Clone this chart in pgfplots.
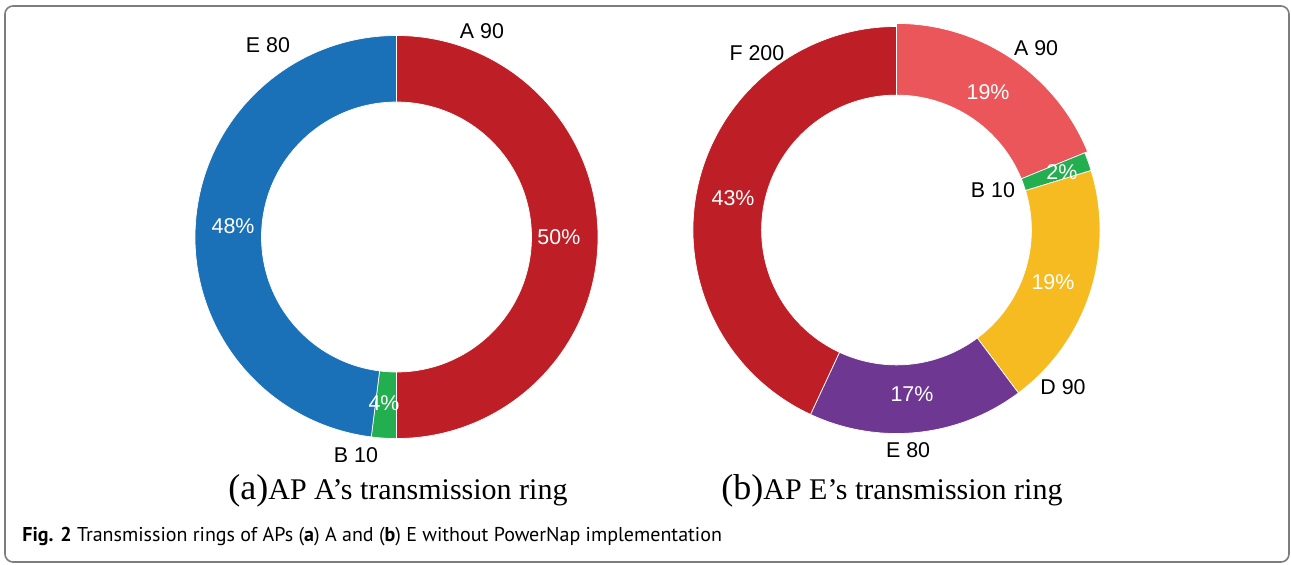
\documentclass[border=0pt]{standalone}
\usepackage{pgfplots}
\pgfplotsset{compat=1.18}
\usepackage{fontspec}
\setmainfont{Liberation Sans}
\newfontfamily\serifcap{Liberation Serif}
\newfontfamily\capfont{PT Sans}

\definecolor{cRed}{RGB}{190,30,38}
\definecolor{cBlue}{RGB}{27,113,183}
\definecolor{cGreen}{RGB}{35,174,80}
\definecolor{cPink}{RGB}{234,86,90}
\definecolor{cYellow}{RGB}{247,187,34}
\definecolor{cPurple}{RGB}{110,55,146}
\definecolor{cFrame}{RGB}{125,125,125}

% ring data (slice sizes as drawn): value/colour/outer-radius factor, clockwise from the top
\def\ringLeft{50/cRed/1, 2/cGreen/1, 48/cBlue/1}
\def\ringRight{67.7/cPink/1.015, 5.3/cGreen/1, 70.2/cYellow/1, 61.8/cPurple/1, 155/cRed/1}

% #1 list macro, #2 outer radius (pt, = 1 axis unit), #3 inner/outer ratio
\newcommand\drawring[3]{%
  \gdef\tot{0}%
  \foreach \v/\c/\s in #1 {\pgfmathparse{\tot+\v}\xdef\tot{\pgfmathresult}}%
  \gdef\cum{0}%
  \foreach \v/\c/\s in #1 {%
    \pgfmathsetmacro\aa{90-(\cum/\tot)*360}%
    \pgfmathsetmacro\ab{90-((\cum+\v)/\tot)*360}%
    \pgfmathsetmacro\xa{\s*cos(\aa)}\pgfmathsetmacro\ya{\s*sin(\aa)}%
    \pgfmathsetmacro\xb{#3*cos(\ab)}\pgfmathsetmacro\yb{#3*sin(\ab)}%
    \pgfmathsetmacro\ro{\s*#2}%
    \pgfmathsetmacro\ri{#3*#2}%
    \edef\tmp{\noexpand\fill[\c, draw=white, line width=0.35pt]
      (axis cs:\xa,\ya) arc[start angle=\aa, end angle=\ab, radius=\ro pt]
      -- (axis cs:\xb,\yb) arc[start angle=\ab, end angle=\aa, radius=\ri pt] -- cycle;}%
    \tmp
    \pgfmathparse{\cum+\v}\xdef\cum{\pgfmathresult}%
  }%
}

\tikzset{lab/.style={font=\fontsize{10.7}{12}\selectfont, inner sep=0pt},
         pct/.style={font=\fontsize{10.7}{12}\selectfont, inner sep=0pt, text=white}}

\begin{document}
\begin{tikzpicture}
\useasboundingbox (0,0) rectangle (645.5pt,-282pt);
\draw[cFrame, line width=0.8pt, rounded corners=4pt] (2.5pt,-3pt) rectangle (644.5pt,-281pt);

% left ring
\begin{axis}[at={(198.25pt,-118.5pt)}, anchor=center, hide axis, clip=false,
  x=100.75pt, y=100.75pt, xmin=-1, xmax=1, ymin=-1, ymax=1]
  \drawring{\ringLeft}{100.75}{0.67}
  \node[lab] at (axis cs:0.424,1.022) {A 90};
  \node[lab] at (axis cs:-0.638,0.953) {E 80};
  \node[lab] at (axis cs:-0.201,-1.082) {B 10};
  \node[pct] at (axis cs:0.806,0) {50\%};
  \node[pct] at (axis cs:-0.811,0.055) {48\%};
  \node[pct] at (axis cs:-0.062,-0.824) {4\%};
\end{axis}

% right ring
\begin{axis}[at={(448.25pt,-115pt)}, anchor=center, hide axis, clip=false,
  x=101.75pt, y=101.75pt, xmin=-1, xmax=1, ymin=-1, ymax=1]
  \drawring{\ringRight}{101.75}{0.663}
  \node[lab] at (axis cs:-0.686,0.870) {F 200};
  \node[lab] at (axis cs:0.686,0.894) {A 90};
  \node[lab] at (axis cs:0.474,0.197) {B 10};
  \node[lab] at (axis cs:0.818,-0.771) {D 90};
  \node[lab] at (axis cs:0.057,-1.081) {E 80};
  \node[pct] at (axis cs:-0.803,0.157) {43\%};
  \node[pct] at (axis cs:0.450,0.678) {19\%};
  \node[pct] at (axis cs:0.813,0.285) {2\%};
  \node[pct] at (axis cs:0.769,-0.256) {19\%};
  \node[pct] at (axis cs:0.076,-0.806) {17\%};
\end{axis}

\node[inner sep=0pt, font=\serifcap\fontsize{15}{18}\selectfont] at (199pt,-245.5pt)
  {{\fontsize{18}{18}\selectfont(a)}AP A’s transmission ring};
\node[inner sep=0pt, font=\serifcap\fontsize{15}{18}\selectfont] at (446pt,-245.5pt)
  {{\fontsize{18}{18}\selectfont(b)}AP E’s transmission ring};
\node[inner sep=0pt, anchor=west, font=\capfont\fontsize{10}{12}\selectfont] at (11pt,-268.5pt)
  {\textbf{Fig. 2} Transmission rings of APs (\textbf{a}) A and (\textbf{b}) E without PowerNap implementation};
\end{tikzpicture}
\end{document}
